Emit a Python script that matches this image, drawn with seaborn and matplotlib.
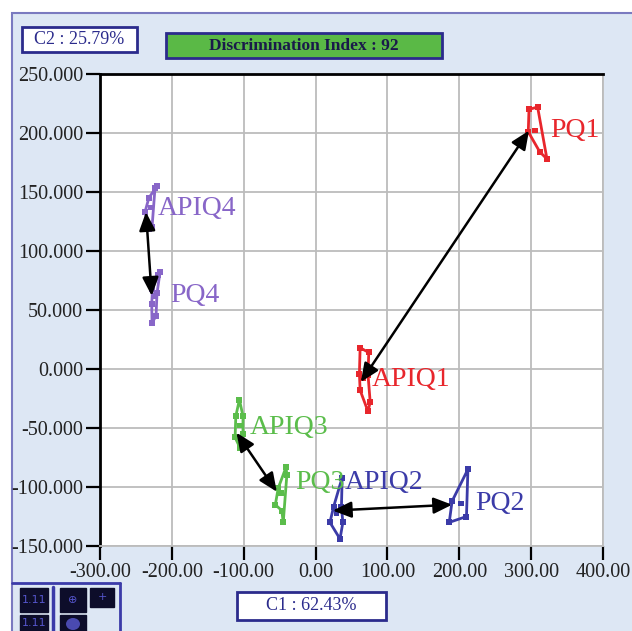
import numpy as np
import pandas as pd
import matplotlib
matplotlib.use("Agg")
import matplotlib.pyplot as plt
import seaborn as sns
from matplotlib.patches import Rectangle, Ellipse

# ---------------- data ----------------
groups = ["PQ1", "APIQ1", "PQ2", "APIQ2", "PQ3", "APIQ3", "PQ4", "APIQ4"]
group_colors = ["#e8262c", "#e8262c", "#3b3ba8", "#3b3ba8",
                "#5bbd4b", "#5bbd4b", "#8866c8", "#8866c8"]

pq1_x = [297, 309, 322, 312, 296, 297]
pq1_y = [220, 222, 178, 184, 201, 220]
apiq1_x = [62, 74, 73, 76, 73, 62, 61, 62]
apiq1_y = [18, 14, -5, -28, -36, -18, -4, 18]
pq2_x = [212, 210, 186, 190, 212]
pq2_y = [-85, -125, -130, -112, -85]
apiq2_x = [37, 36, 38, 34, 20, 25, 37]
apiq2_y = [-92, -117, -130, -144, -130, -117, -92]
pq3_x = [-41, -40, -45, -47, -56, -52, -41]
pq3_y = [-83, -90, -130, -120, -115, -101, -83]
apiq3_x = [-106, -101, -101, -105, -112, -111, -106]
apiq3_y = [-26, -40, -55, -67, -58, -40, -26]
pq4_x = [-216.5, -220.7, -222, -227.6, -228, -227, -219, -216.5]
pq4_y = [82, 64, 45, 39, 55, 68, 80, 82]
apiq4_x = [-220.7, -223.5, -227.6, -231.8, -237.4, -232, -220.7]
apiq4_y = [155, 153, 120, 119, 133, 145, 155]

center_x = [305, 66, 202, 29, -48, -106, -223, -229]
center_y = [202, -8, -114, -122, -105, -48, 62, 137]

label_x = [326, 78.5, 222, 41, -28.6, -91, -202.6, -219]
label_y = [202, -8.5, -113.6, -96.6, -96.6, -50, 62, 136.4]

arrow_start_x = [297, 24, -110, -236]
arrow_start_y = [202, -120, -54, 133]
arrow_end_x = [63, 190, -54, -228]
arrow_end_y = [-11, -115, -104, 62]

x_ticks = [-300, -200, -100, 0, 100, 200, 300, 400]
y_ticks = [-150, -100, -50, 0, 50, 100, 150, 200, 250]

c1_text = "C1 : 62.43%"
c2_text = "C2 : 25.79%"
di_text = "Discrimination Index : 92"

# ---------------- figure ----------------
sns.set_theme(style="white")
plt.rcParams["font.family"] = ["Liberation Serif", "DejaVu Serif"]
plt.rcParams["axes.unicode_minus"] = False

W, H = 632, 631
fig = plt.figure(figsize=(W / 100, H / 100), dpi=100, facecolor="white")

def fx(px):
    return px / W

def fy(py):
    return 1 - py / H

# light blue panel (behind everything)
fig.patches.append(Rectangle((fx(12), -0.01), 1.05 - fx(12), fy(13) + 0.01, transform=fig.transFigure,
                             facecolor="#dde7f4", edgecolor="#7a7ac0", lw=1.5, zorder=-5))

ax = fig.add_axes([fx(100), fy(546), fx(603) - fx(100), fy(74) - fy(546)])
ax.set_zorder(2)
ax.set_facecolor("white")

xs = [pq1_x, apiq1_x, pq2_x, apiq2_x, pq3_x, apiq3_x, pq4_x, apiq4_x]
ys = [pq1_y, apiq1_y, pq2_y, apiq2_y, pq3_y, apiq3_y, pq4_y, apiq4_y]

for g, c, gx, gy in zip(groups, group_colors, xs, ys):
    df = pd.DataFrame({"x": gx, "y": gy})
    sns.lineplot(data=df, x="x", y="y", sort=False, estimator=None, color=c, lw=2,
                 marker="s", markersize=4, markeredgewidth=0, ax=ax, zorder=3)

cdf = pd.DataFrame({"x": center_x, "y": center_y, "g": groups})
sns.scatterplot(data=cdf, x="x", y="y", hue="g", palette=dict(zip(groups, group_colors)),
                marker="s", s=16, linewidth=0, legend=False, ax=ax, zorder=4)

for g, c, lx, ly in zip(groups, group_colors, label_x, label_y):
    ax.text(lx, ly, g, color=c, fontsize=20, ha="left", va="center", zorder=5)

for sx, sy, ex, ey in zip(arrow_start_x, arrow_start_y, arrow_end_x, arrow_end_y):
    ax.annotate("", xy=(ex, ey), xytext=(sx, sy),
                arrowprops=dict(arrowstyle="<|-|>,head_length=0.8,head_width=0.35",
                                color="black", lw=1.8, mutation_scale=14,
                                shrinkA=0, shrinkB=0), zorder=6)

ax.set_xlim(-300, 400)
ax.set_ylim(-150, 250)
ax.set_xticks(x_ticks)
ax.set_yticks(y_ticks)
ax.set_xticklabels([f"{v:.2f}" for v in x_ticks], fontsize=14.5)
ax.set_yticklabels([f"{v:.3f}" for v in y_ticks], fontsize=14.5)
ax.set_xlabel("")
ax.set_ylabel("")
ax.grid(True, color="#bcbcbc", lw=1.3)
ax.set_axisbelow(True)
ax.tick_params(axis="both", direction="out", length=10, width=1.6, color="black",
               labelcolor="#222222", bottom=True, left=True, pad=2)
for side in ["top", "left"]:
    ax.spines[side].set_color("black")
    ax.spines[side].set_linewidth(2)
for side in ["right", "bottom"]:
    ax.spines[side].set_color("#bcbcbc")
    ax.spines[side].set_linewidth(1.3)

# boxes
def box(x0, y0, x1, y1, fc, text, **kw):
    fig.patches.append(Rectangle((fx(x0), fy(y1)), fx(x1) - fx(x0), fy(y0) - fy(y1),
                                 transform=fig.transFigure, facecolor=fc,
                                 edgecolor="#2b2b8c", lw=2, zorder=2))
    fig.text(fx((x0 + x1) / 2), fy((y0 + y1) / 2), text, ha="center", va="center", zorder=3, **kw)

box(22, 27, 137, 52, "white", c2_text, fontsize=13, color="#2b2b8c")
box(166, 33, 442, 58, "#5ab946", di_text, fontsize=12.5, color="#1a1a4a", fontweight="bold")
box(237, 592, 386, 620, "white", c1_text, fontsize=13, color="#2b2b8c")

# toolbar panel at bottom-left
fig.lines.append(plt.Line2D([fx(12), fx(120)], [fy(583), fy(583)], transform=fig.transFigure,
                            color="#3b3ba8", lw=2))
fig.lines.append(plt.Line2D([fx(120), fx(120)], [fy(583), 0], transform=fig.transFigure,
                            color="#3b3ba8", lw=2))
fig.lines.append(plt.Line2D([fx(53), fx(53)], [fy(587), 0], transform=fig.transFigure,
                            color="#3b3ba8", lw=2.5))
icons = [(20, 588, 48, 612, "1.11"), (60, 588, 86, 612, "⊕"), (90, 588, 114, 607, "+"),
         (20, 615, 48, 631, "1.11"), (60, 615, 86, 631, "")]
for x0, y0, x1, y1, t in icons:
    fig.patches.append(Rectangle((fx(x0), fy(y1)), fx(x1) - fx(x0), fy(y0) - fy(y1),
                                 transform=fig.transFigure, facecolor="#0d0d2a",
                                 edgecolor="#0d0d2a", lw=1, zorder=2))
    if t:
        fig.text(fx((x0 + x1) / 2), fy((y0 + y1) / 2), t, ha="center", va="center",
                 fontsize=8, color="#5555cc", family=["DejaVu Sans"], zorder=3)
# hand-like blob for the pan icon
fig.patches.append(Ellipse((fx(73), fy(624)), fx(14), 12 / H, transform=fig.transFigure,
                           facecolor="#4a4ab0", edgecolor="none", zorder=3))

fig.savefig("out.png", dpi=100, facecolor="white")
